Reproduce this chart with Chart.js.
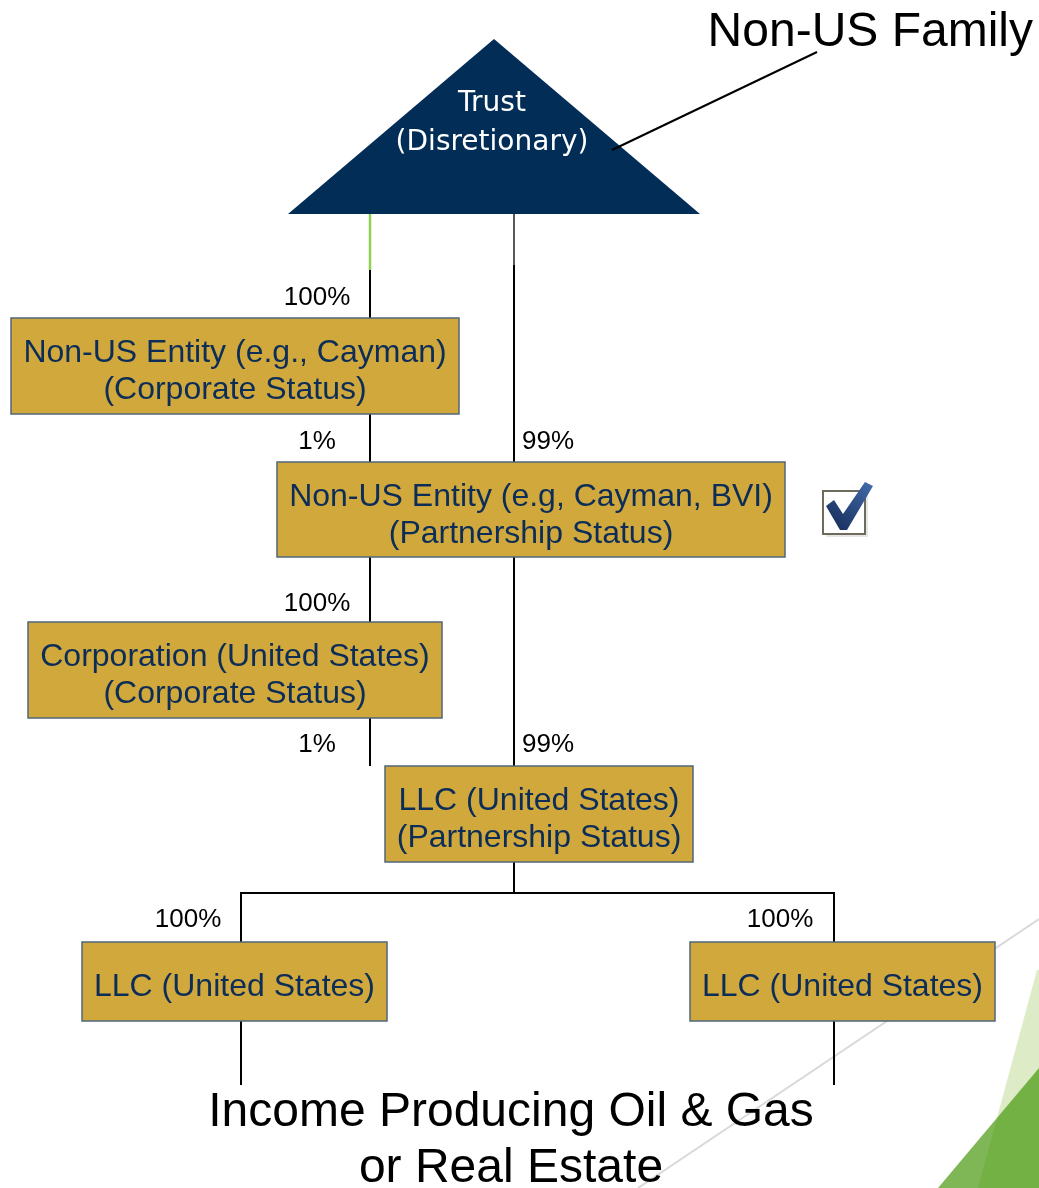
<!DOCTYPE html>
<html lang="en">
<head>
  <meta charset="UTF-8" />
  <title>Non-US Family Holding Structure</title>
  <script src="https://cdn.jsdelivr.net/npm/chart.js@4.4.0/dist/chart.umd.min.js"></script>
  <style>
    body {
      margin: 0;
      background: #ffffff;
    }
    .chart-container {
      position: relative;
      width: 1039px;
      height: 1188px;
    }
  </style>
</head>
<body>
  <div class="chart-container">
    <canvas id="structureChart"></canvas>
  </div>

  <script>
    // entity boxes (diagram units = page pixels)
    const entityLabels = [
      ['Non-US Entity (e.g., Cayman)', '(Corporate Status)'],
      ['Non-US Entity (e.g, Cayman, BVI)', '(Partnership Status)'],
      ['Corporation (United States)', '(Corporate Status)'],
      ['LLC (United States)', '(Partnership Status)'],
      ['LLC (United States)'],
      ['LLC (United States)']
    ];
    const entityLeft = [11, 277, 28, 385, 82, 690];
    const entityRight = [459, 785, 442, 693, 387, 995];
    const entityTop = [318, 462, 622, 766, 942, 942];
    const entityBottom = [414, 557, 718, 862, 1021, 1021];

    // ownership percentages
    const ownLabels = ['100%', '1%', '99%', '100%', '1%', '99%', '100%', '100%'];
    const ownX = [317, 317, 548, 317, 317, 548, 188, 780];
    const ownY = [298, 442, 442, 604, 745, 745, 920, 920];

    // connector lines
    const linkPaths = [
      [[370, 270], [370, 318]],
      [[370, 414], [370, 462]],
      [[514, 265], [514, 462]],
      [[370, 557], [370, 622]],
      [[514, 557], [514, 766]],
      [[370, 718], [370, 766]],
      [[514, 862], [514, 893]],
      [[241, 942], [241, 893], [834, 893], [834, 942]],
      [[241, 1021], [241, 1085]],
      [[834, 1021], [834, 1085]]
    ];
    const greenLink = [[370, 214], [370, 270]];
    const greyLink = [[514, 214], [514, 265]];

    // trust triangle + callout
    const trustX = [288, 494, 700, 288];
    const trustY = [214, 39, 214, 214];
    const trustLines = ['Trust', '(Disretionary)'];
    const trustLineY = [104, 143];
    const familyLeader = [[612, 150], [817, 52]];

    // slide decoration
    const swooshLine = [[1039, 919], [638, 1188]];
    const leafLightX = [1037, 1039, 1039, 978, 1037];
    const leafLightY = [970, 970, 1188, 1188, 970];
    const leafDarkX = [1039, 1039, 938, 1039];
    const leafDarkY = [1068, 1188, 1188, 1068];

    const toPoints = (path) => path.map(p => ({ x: p[0], y: p[1] }));
    const zipPoints = (xs, ys) => xs.map((x, i) => ({ x: x, y: ys[i] }));

    const lineSet = (path, color, width) => ({
      data: toPoints(path),
      showLine: true,
      borderColor: color,
      borderWidth: width,
      pointRadius: 0,
      fill: false,
      tension: 0
    });
    const shapeSet = (pts, color) => ({
      data: pts,
      showLine: true,
      borderColor: 'rgba(0,0,0,0)',
      borderWidth: 0,
      backgroundColor: color,
      pointRadius: 0,
      fill: 'shape',
      tension: 0
    });

    // index 0 is drawn on top
    const datasets = [
      lineSet(familyLeader, '#000000', 2),
      ...linkPaths.map(p => lineSet(p, '#000000', 2)),
      lineSet(greenLink, '#92D050', 2.5),
      lineSet(greyLink, '#595959', 2),
      shapeSet(zipPoints(trustX, trustY), '#022D57'),
      lineSet(swooshLine, '#D9D9D9', 2),
      shapeSet(zipPoints(leafDarkX, leafDarkY), 'rgba(66,149,8,0.68)'),
      shapeSet(zipPoints(leafLightX, leafLightY), '#DDEBC6')
    ];

    const diagramText = {
      id: 'diagramText',
      afterDatasetsDraw(chart) {
        const ctx = chart.ctx;
        const sx = chart.scales.x, sy = chart.scales.y;
        const px = v => sx.getPixelForValue(v);
        const py = v => sy.getPixelForValue(v);
        ctx.save();
        ctx.textAlign = 'center';
        ctx.textBaseline = 'middle';

        // trust label
        ctx.fillStyle = '#ffffff';
        ctx.font = '28px "DejaVu Sans"';
        trustLines.forEach((t, i) => ctx.fillText(t, px(492), py(trustLineY[i])));

        // entity boxes
        entityLabels.forEach((lines, i) => {
          const x0 = px(entityLeft[i]), x1 = px(entityRight[i]);
          const y0 = py(entityTop[i]), y1 = py(entityBottom[i]);
          ctx.fillStyle = '#D1A83C';
          ctx.fillRect(x0, y0, x1 - x0, y1 - y0);
          ctx.strokeStyle = '#50667A';
          ctx.lineWidth = 1.5;
          ctx.strokeRect(x0, y0, x1 - x0, y1 - y0);
          ctx.fillStyle = '#0C2D57';
          ctx.font = '32px "Liberation Sans", Arial';
          const cx = (x0 + x1) / 2, cy = (y0 + y1) / 2;
          lines.forEach((t, j) => {
            ctx.fillText(t, cx, cy + (j - (lines.length - 1) / 2) * 37 + 6);
          });
        });

        // percentages
        ctx.fillStyle = '#000000';
        ctx.font = '26px "Liberation Sans", Arial';
        ownLabels.forEach((t, i) => ctx.fillText(t, px(ownX[i]), py(ownY[i])));

        // titles
        ctx.font = '48px "Liberation Sans", Arial';
        ctx.textAlign = 'right';
        ctx.fillText('Non-US Family', px(1033), py(33));
        ctx.textAlign = 'center';
        ctx.fillText('Income Producing Oil & Gas', px(511), py(1113));
        ctx.fillText('or Real Estate', px(511), py(1169));

        // check box
        ctx.fillStyle = '#e6e6e6';
        ctx.fillRect(px(826), py(494), 42, 43);
        ctx.fillStyle = '#ffffff';
        ctx.fillRect(px(823), py(491), 42, 43);
        ctx.strokeStyle = '#6E6A5E';
        ctx.lineWidth = 2;
        ctx.strokeRect(px(823), py(491), 42, 43);
        const tick = [[826, 506], [834, 500], [843, 514], [865, 482], [873, 486], [847, 530], [840, 530]];
        const grad = ctx.createLinearGradient(px(830), py(530), px(870), py(484));
        grad.addColorStop(0, '#162B58');
        grad.addColorStop(1, '#3F69A6');
        ctx.fillStyle = grad;
        ctx.beginPath();
        tick.forEach((p, i) => i ? ctx.lineTo(px(p[0]), py(p[1])) : ctx.moveTo(px(p[0]), py(p[1])));
        ctx.closePath();
        ctx.fill();
        ctx.restore();
      }
    };

    new Chart(document.getElementById('structureChart'), {
      type: 'scatter',
      data: { datasets: datasets },
      options: {
        responsive: true,
        maintainAspectRatio: false,
        animation: false,
        events: [],
        layout: { padding: 0 },
        plugins: {
          legend: { display: false },
          tooltip: { enabled: false }
        },
        scales: {
          x: { type: 'linear', min: 0, max: 1039, display: false },
          y: { type: 'linear', min: 0, max: 1188, reverse: true, display: false }
        }
      },
      plugins: [diagramText]
    });
  </script>
</body>
</html>
